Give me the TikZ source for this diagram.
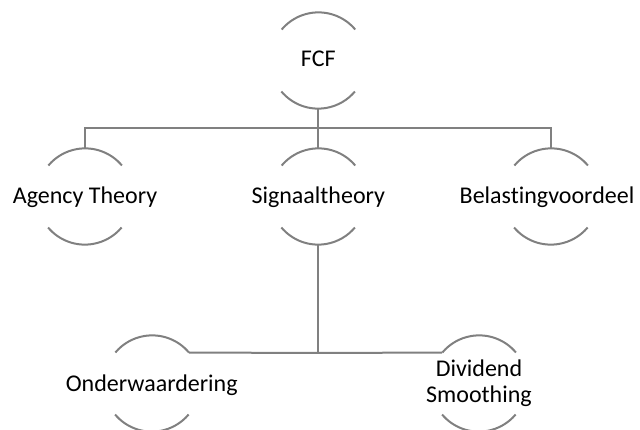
\documentclass[tikz,border=0pt]{standalone}
\usepackage{fontspec}
\setmainfont{Carlito}[Ligatures=NoCommon]
\definecolor{linegray}{RGB}{128,128,128}
\begin{document}
\begin{tikzpicture}[x=1pt,y=-1pt,
  circ/.style={circle,minimum size=96pt,inner sep=0pt,draw=none},
  lbl/.style={anchor=base,inner sep=0pt,font=\fontsize{24}{26.5}\selectfont,align=center},
  conn/.style={draw=linegray,line width=2pt},
  arcs/.style={draw=linegray,line width=2pt}]
\useasboundingbox (0,0) rectangle (640,430);
% circles
\node[circ] (fcf) at (318.3,60.5) {};
\node[circ] (agency) at (85,196.5) {};
\node[circ] (signaal) at (318.3,196.5) {};
\node[circ] (belasting) at (551,196.5) {};
\node[circ] (onder) at (152,383.5) {};
\node[circ] (divid) at (479,383.5) {};
% arcs
\foreach \n in {fcf,agency,signaal,belasting,onder,divid}{
  \draw[arcs] (\n.40) arc[start angle=40,end angle=140,radius=48pt];
  \draw[arcs] (\n.220) arc[start angle=220,end angle=320,radius=48pt];
}
% labels
\node[lbl] (tfcf) at (318.3,67) {FCF};
\node[lbl] (tagency) at (85,203.3) {Agency Theory};
\node[lbl] (tsignaal) at (318.3,203.3) {Signaaltheory};
\node[lbl] (tbelasting) at (547,203.3) {Belastingvoordeel};
\node[lbl] (tonder) at (151.7,391) {Onderwaardering};
\node[lbl,anchor=center] (tdivid) at (479,383) {Dividend\\Smoothing};
% connectors
\coordinate (bus1) at (318.3,128);
\coordinate (bus2) at (318.3,353);
\draw[conn] (fcf.south) -- (bus1);
\draw[conn] (bus1) -- (signaal.north);
\draw[conn] (agency.north) |- (bus1) -| (belasting.north);
\draw[conn] (signaal.south) -- (bus2);
\draw[conn] (onder.40) -- (bus2) -- (divid.140);
\end{tikzpicture}
\end{document}
